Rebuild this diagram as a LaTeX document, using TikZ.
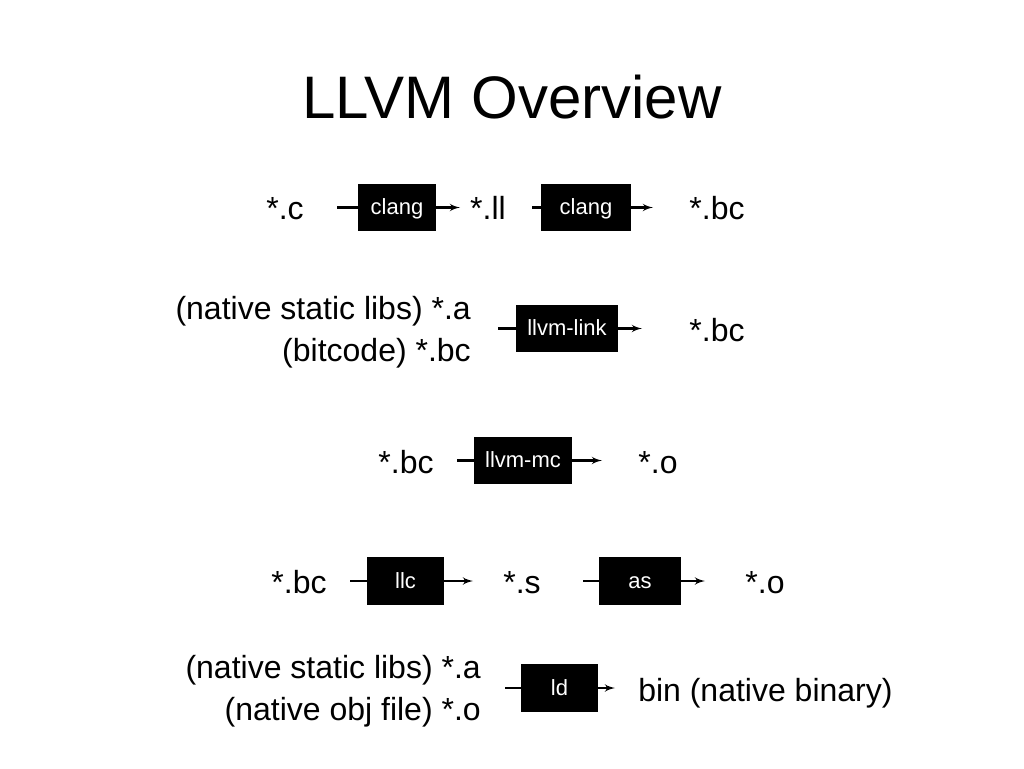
\documentclass[tikz,border=0pt]{standalone}
\usepackage{fontspec}
\setmainfont{Liberation Sans}
\usepackage{tikz}
\usetikzlibrary{arrows, positioning}

\begin{document}
\begin{tikzpicture}[x=1pt, y=-1pt, >=latex', line width=2.5pt,
    tool/.style={draw, fill=black, text=white, minimum height=45pt, minimum width=75pt,
        inner xsep=10pt, text height=15pt, text depth=1pt, font=\fontsize{22}{26}\selectfont},
    file/.style={anchor=base, inner sep=0pt, font=\fontsize{32}{40}\selectfont},
    files/.style={anchor=east, inner sep=0pt, align=right, font=\fontsize{32}{42}\selectfont}]

    \useasboundingbox (0,0) rectangle (1024,768);

    % Title
    \node (title) [anchor=base, font=\fontsize{60}{72}\selectfont] at (512,118) {LLVM Overview};

    % Nodes
    \node (c) [file] at (285,219) {*.c};
    \node (clangA) [tool, minimum width=76pt] at (397,207.5) {clang};
    \node (ll) [file] at (488,219) {*.ll};
    \node (clangB) [tool, minimum width=88pt] at (586,207.5) {clang};
    \node (bcA) [file] at (717,219) {*.bc};

    \node (libs) [files] at (472,332) {(native static libs) *.a\\(bitcode) *.bc};
    \node (link) [tool, minimum width=100pt] at (567,328.5) {llvm-link};
    \node (bcB) [file] at (717,341) {*.bc};

    \node (bcC) [file] at (406,473) {*.bc};
    \node (mc) [tool, minimum width=94pt] at (523,460.5) {llvm-mc};
    \node (oA) [file] at (658,473) {*.o};

    \node (bcD) [file] at (299,593) {*.bc};
    \node (llc) [tool] at (405.5,581) {llc};
    \node (s) [file] at (522,593) {*.s};
    \node (as) [tool, minimum width=80pt] at (640,581) {as};
    \node (oB) [file] at (765,593) {*.o};

    \node (objs) [files] at (482,691) {(native static libs) *.a\\(native obj file) *.o};
    \node (ld) [tool] at (559.5,688) {ld};
    \node (bin) [file, anchor=base west] at (637,701) {bin (native binary)};

    % Line ends
    \coordinate (clangAin) at (337,207.5);
    \coordinate (clangAout) at (460,207.5);
    \coordinate (clangBin) at (532,207.5);
    \coordinate (clangBout) at (653,207.5);
    \coordinate (linkin) at (498,328.5);
    \coordinate (linkout) at (642,328.5);
    \coordinate (mcin) at (457,460.5);
    \coordinate (mcout) at (602,460.5);
    \coordinate (llcin) at (350,581);
    \coordinate (llcout) at (473,581);
    \coordinate (asin) at (583,581);
    \coordinate (asout) at (705,581);
    \coordinate (ldin) at (505,688);
    \coordinate (ldout) at (615,688);

    % Links
    \draw (clangAin) -- (clangA);
    \draw[->] (clangA) -- (clangAout);
    \draw (clangBin) -- (clangB);
    \draw[->] (clangB) -- (clangBout);
    \draw (linkin) -- (link);
    \draw[->] (link) -- (linkout);
    \draw (mcin) -- (mc);
    \draw[->] (mc) -- (mcout);
    \draw (llcin) -- (llc);
    \draw[->] (llc) -- (llcout);
    \draw (asin) -- (as);
    \draw[->] (as) -- (asout);
    \draw (ldin) -- (ld);
    \draw[->] (ld) -- (ldout);
\end{tikzpicture}
\end{document}
